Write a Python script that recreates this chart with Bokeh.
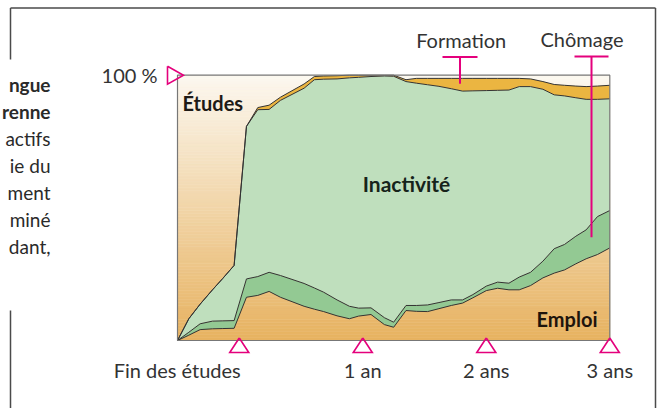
import numpy as np
from bokeh.plotting import figure
from bokeh.models import Range1d
from bokeh.core.properties import value
from bokeh.embed import file_html
from bokeh.resources import INLINE

# ---------------- data (months after end of studies, % of youths) ----------------
months = [-6.0, -4.9, -3.8, -2.6, -1.6, -0.5, 0.7, 1.8, 2.9, 4.0, 6.3, 7.3, 8.2, 9.5,
          10.7, 11.6, 12.8, 14.1, 15.0, 16.2, 17.2, 18.3, 19.4, 20.6, 21.7, 22.7, 24.0,
          25.1, 26.2, 27.2, 28.3, 29.5, 30.6, 31.6, 32.7, 33.7, 34.8, 36.0]
emploi = [0, 2.0, 4.1, 4.4, 4.5, 4.6, 16.3, 17.0, 18.5, 16.3, 12.9, 11.8, 10.9, 9.3,
          8.2, 9.2, 9.8, 6.0, 5.0, 11.3, 11.0, 10.9, 12.0, 13.2, 14.1, 16.1, 18.8,
          19.7, 19.1, 19.1, 20.7, 23.6, 25.4, 26.6, 28.9, 30.8, 32.4, 34.9]
chomage = [0, 1.1, 2.2, 2.9, 2.9, 2.9, 6.9, 7.1, 7.2, 8.2, 8.6, 8.0, 7.3, 6.0,
           4.7, 3.0, 2.5, 2.6, 1.9, 1.9, 2.2, 2.5, 2.3, 2.1, 1.2, 1.2, 1.7,
           2.3, 2.5, 4.8, 5.0, 6.3, 9.2, 9.6, 10.4, 10.9, 14.3, 14.1]
inactivite = [0, 5.1, 7.4, 11.8, 16.0, 20.8, 57.5, 62.9, 61.4, 66.0, 73.6, 78.5, 80.3, 83.3,
              86.1, 87.0, 87.2, 91.1, 92.7, 84.4, 83.8, 83.0, 81.5, 79.6, 78.7, 76.8, 73.7,
              72.3, 72.8, 71.8, 70.0, 64.8, 58.0, 56.0, 52.2, 49.2, 44.2, 42.1]
formation = [0, 0, 0, 0, 0, 0, 0, 0.8, 1.6, 1.2, 1.6, 1.2, 1.2, 1.2,
             1.0, 0.8, 0.5, 0.3, 0.4, 0.7, 1.8, 2.4, 3.0, 3.9, 4.8, 4.7, 4.6,
             4.5, 4.4, 3.1, 2.9, 2.9, 3.9, 4.0, 4.4, 4.8, 5.0, 5.1]

tick_months = [0, 12, 24, 36]
tick_labels = ["Fin des études", "1 an", "2 ans", "3 ans"]
y_tick = 100
y_tick_label = "100 %"
side_text = ["ngue", "renne", "actifs", "ie du", "ment", "miné", "dant,"]

# ---------------- layout ----------------
W, H = 662, 408
PL, PR, PT, PB = 177.0, 609.3, 74.7, 340.0   # plot box in page pixels
X0, X1 = -6.0, 36.0
sx = (PR - PL) / (X1 - X0)
sy = (PB - PT) / 100.0
xs = X0 - PL / sx
xe = xs + W / sx
ye = 100 + PT / sy
ys = ye - H / sy

def X(px):
    return xs + px / sx

def Y(py):
    return ye - py / sy

def T(py):          # text baseline position (compensates renderer offset)
    return Y(py - 7.5)

def DX(d):
    return d / sx

def DY(d):
    return d / sy

FONT = value("Lato")
MAG = "#e4007c"
EDGE = "#333333"

p = figure(width=W, height=H, x_range=Range1d(xs, xe), y_range=Range1d(ys, ye),
           x_axis_type=None, y_axis_type=None, toolbar_location=None,
           output_backend="svg", min_border=0, outline_line_color=None,
           background_fill_color="white", border_fill_color="white")

# background gradient inside plot box (cream top -> orange bottom)
top_c = np.array([252, 248, 240])
bot_c = np.array([231, 178, 96])
n = 90
edges = np.linspace(0, 100, n + 1)
cols = []
for i in range(n):
    t = (edges[i] + edges[i + 1]) / 200.0
    c = bot_c + (top_c - bot_c) * t
    cols.append("#%02x%02x%02x" % tuple(int(round(v)) for v in c))
p.quad(left=X0, right=X1, bottom=edges[:-1], top=edges[1:], fill_color=cols,
       line_color=cols, line_width=0.6)

m = np.array(months)
e = np.array(emploi)
c1 = e + np.array(chomage)
i1 = c1 + np.array(inactivite)
f1 = i1 + np.array(formation)

p.varea(x=m, y1=e, y2=c1, fill_color="#93c993")
p.varea(x=m, y1=c1, y2=i1, fill_color="#bfdfbd")
p.varea(x=m, y1=i1, y2=f1, fill_color="#ebb541")

for yy in (e, c1, i1, f1):
    p.line(m, yy, line_color=EDGE, line_width=1, line_join="round")

# plot box
p.quad(left=X0, right=X1, bottom=0, top=100, fill_alpha=0,
       line_color="#777777", line_width=1.2)

# outer frame lines
p.multi_line(xs=[[X(10), X(10)], [X(10), X(10)], [X(10), X(655)], [X(655), X(655)]],
             ys=[[Y(7.5), Y(59)], [Y(310), Y(408)], [Y(7.5), Y(7.5)], [Y(7.5), Y(408)]],
             line_color="#4a4a4a", line_width=1.5)

# magenta tick triangles
tri_x = [[t, t - DX(9.5), t + DX(9.5), t] for t in tick_months]
tri_y = [[Y(337.5), Y(352), Y(352), Y(337.5)] for _ in tick_months]
tri_x.append([X(167), X(167), X(183), X(167)])
tri_y.append([y_tick + DY(9), y_tick - DY(9), y_tick, y_tick + DY(9)])
p.multi_line(xs=tri_x, ys=tri_y, line_color=MAG, line_width=1.6, line_join="miter")

# callout T markers
p.multi_line(xs=[[X(442), X(477)], [X(459.5), X(459.5)], [X(574), X(608)], [X(591), X(591)]],
             ys=[[Y(56.5), Y(56.5)], [Y(56.5), Y(83.3)], [Y(56), Y(56)], [Y(56), Y(236.7)]],
             line_color=MAG, line_width=2)

# tick labels
p.text(x=[tick_months[0] + DX(1.5)], y=[T(377)], text=[tick_labels[0]], text_font=FONT,
       text_font_size="20px", text_align="right", text_baseline="alphabetic", text_color="#333333")
p.text(x=tick_months[1:], y=[T(377)] * 3, text=tick_labels[1:], text_font=FONT,
       text_font_size="20px", text_align="center", text_baseline="alphabetic", text_color="#333333")
p.text(x=[X(157)], y=[T(82)], text=[y_tick_label], text_font=FONT, text_font_size="20px",
       text_align="right", text_baseline="alphabetic", text_color="#333333")

# callout labels
p.text(x=[X(460.7), X(581.5)], y=[T(46.5), T(45.5)], text=["Formation", "Chômage"], text_font=FONT,
       text_font_size="20px", text_align="center", text_baseline="alphabetic", text_color="#333333")

# in-plot bold labels
p.text(x=[X(182)], y=[T(110)], text=["Études"], text_font=FONT, text_font_size="20px",
       text_font_style="bold", text_align="left", text_baseline="alphabetic", text_color="#1e1a16")
p.text(x=[X(406)], y=[T(190.5)], text=["Inactivité"], text_font=FONT, text_font_size="21px",
       text_font_style="bold", text_align="center", text_baseline="alphabetic", text_color="#16231a")
p.text(x=[X(597)], y=[T(325.5)], text=["Emploi"], text_font=FONT, text_font_size="20px",
       text_font_style="bold", text_align="right", text_baseline="alphabetic", text_color="#1e140c")

# cut-off side text
for k, s in enumerate(side_text):
    p.text(x=[X(50)], y=[T(91 + 27 * k)], text=[s], text_font=FONT, text_font_size="19px",
           text_font_style="bold" if k < 2 else "normal", text_align="right",
           text_baseline="alphabetic", text_color="#2a2a2a")

open("out.html", "w").write(file_html(p, INLINE))
